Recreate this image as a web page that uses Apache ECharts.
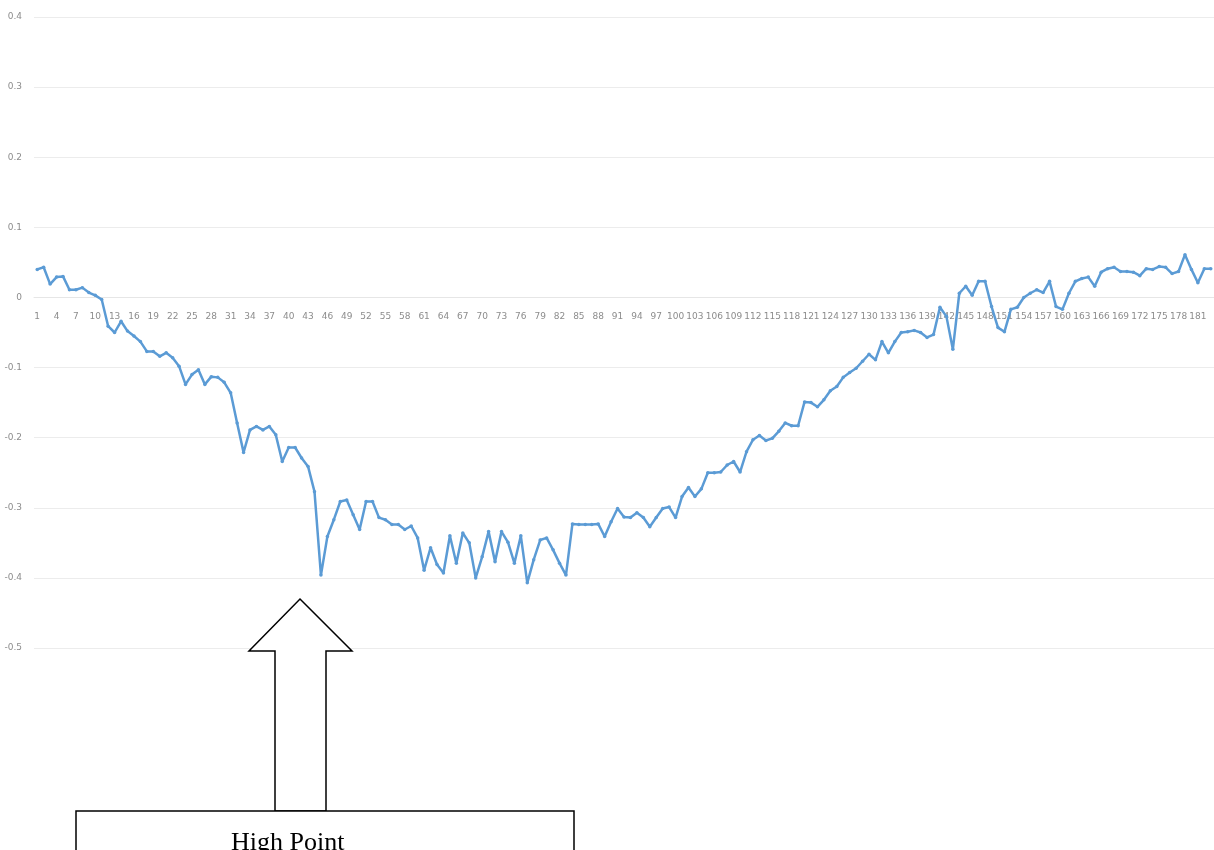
<!DOCTYPE html>
<html>
<head>
<meta charset="utf-8">
<script src="https://cdn.jsdelivr.net/npm/echarts@6/dist/echarts.min.js"></script>
<style>
html,body{margin:0;padding:0;background:#fff;}
#chart{width:1214px;height:850px;}
</style>
</head>
<body>
<div id="chart"></div>
<script>
// Data
const categories = [
  1,2,3,4,5,6,7,8,9,10,11,12,13,14,15,16,17,18,19,20,21,22,23,24,25,26,27,28,29,30,
  31,32,33,34,35,36,37,38,39,40,41,42,43,44,45,46,47,48,49,50,51,52,53,54,55,56,57,58,59,60,
  61,62,63,64,65,66,67,68,69,70,71,72,73,74,75,76,77,78,79,80,81,82,83,84,85,86,87,88,89,90,
  91,92,93,94,95,96,97,98,99,100,101,102,103,104,105,106,107,108,109,110,111,112,113,114,115,116,117,118,119,120,
  121,122,123,124,125,126,127,128,129,130,131,132,133,134,135,136,137,138,139,140,141,142,143,144,145,146,147,148,149,150,
  151,152,153,154,155,156,157,158,159,160,161,162,163,164,165,166,167,168,169,170,171,172,173,174,175,176,177,178,179,180,
  181,182,183
];
const values = [
  0.040, 0.043, 0.019, 0.029, 0.030, 0.011, 0.011, 0.014, 0.007, 0.003, -0.003,
  -0.041, -0.050, -0.034, -0.048, -0.055, -0.063, -0.077, -0.077, -0.084, -0.079,
  -0.086, -0.098, -0.124, -0.110, -0.103, -0.124, -0.113, -0.114, -0.121, -0.136,
  -0.179, -0.221, -0.189, -0.184, -0.189, -0.184, -0.196, -0.234, -0.214, -0.214,
  -0.229, -0.241, -0.277, -0.396, -0.341, -0.317, -0.291, -0.289, -0.310, -0.331,
  -0.291, -0.291, -0.314, -0.317, -0.324, -0.324,
  -0.331, -0.326, -0.343, -0.389, -0.357, -0.381, -0.393, -0.340, -0.379, -0.336,
  -0.350, -0.400, -0.370, -0.334, -0.377, -0.334, -0.349, -0.379, -0.340, -0.407,
  -0.374, -0.346, -0.343, -0.360, -0.379, -0.396, -0.323, -0.324, -0.324, -0.324,
  -0.323, -0.341, -0.320, -0.301, -0.313, -0.314, -0.307, -0.314, -0.327, -0.314,
  -0.301, -0.299, -0.314, -0.284, -0.271, -0.284, -0.273, -0.250, -0.250, -0.249,
  -0.239, -0.234, -0.249, -0.220, -0.203, -0.197, -0.204, -0.201, -0.191, -0.179,
  -0.183, -0.183,
  -0.149, -0.150, -0.156, -0.146, -0.133, -0.127, -0.114, -0.107, -0.101, -0.091,
  -0.081, -0.089, -0.063, -0.079, -0.063, -0.050, -0.049, -0.047, -0.050, -0.057,
  -0.053, -0.014, -0.027, -0.074, 0.006, 0.016, 0.003, 0.023, 0.023, -0.013,
  -0.043, -0.049, -0.017, -0.014, 0.000, 0.006, 0.011, 0.007, 0.023, -0.013,
  -0.017, 0.006, 0.023, 0.027, 0.029, 0.016, 0.036, 0.041, 0.043, 0.037,
  0.037, 0.036, 0.031, 0.041, 0.040, 0.044, 0.043, 0.034, 0.037, 0.061,
  0.040, 0.021, 0.041, 0.041
];
const yTicks = [-0.5, -0.4, -0.3, -0.2, -0.1, 0, 0.1, 0.2, 0.3, 0.4];
const annotationText = 'High Point';

const gridTop = 17, gridBottom = 202, chartH = 850;
const plotH = chartH - gridTop - gridBottom;
const yMin = yTicks[0], yMax = yTicks[yTicks.length - 1];
// shift the category axis up to where value 0 sits on the value axis
const zeroOffset = -plotH * (0 - yMin) / (yMax - yMin);

const chart = echarts.init(document.getElementById('chart'), null, {renderer: 'canvas'});
const option = {
  backgroundColor: '#ffffff',
  animation: false,
  grid: {left: 34, right: 0, top: gridTop, bottom: gridBottom, containLabel: false},
  xAxis: {
    type: 'category',
    data: categories.map(String),
    boundaryGap: true,
    position: 'bottom',
    offset: zeroOffset,
    axisLine: {show: true, onZero: false, lineStyle: {color: '#e6e6e6', width: 1}},
    axisTick: {show: false},
    axisLabel: {
      interval: 2,
      hideOverlap: false,
      color: '#8c8c8c',
      fontSize: 9,
      fontFamily: 'DejaVu Sans',
      margin: 15
    },
    splitLine: {show: false}
  },
  yAxis: {
    type: 'value',
    min: yMin,
    max: yMax,
    interval: 0.1,
    axisLine: {show: false},
    axisTick: {show: false},
    axisLabel: {
      color: '#8c8c8c',
      fontSize: 9,
      fontFamily: 'DejaVu Sans',
      margin: 12,
      formatter: function (v) {
        const r = Math.round(v * 10) / 10;
        return r === 0 ? '0' : r.toFixed(1);
      }
    },
    splitLine: {show: true, lineStyle: {color: '#ececec', width: 1}}
  },
  series: [{
    type: 'line',
    data: values,
    symbol: 'circle',
    symbolSize: 3.5,
    showSymbol: true,
    lineStyle: {color: '#5b9bd5', width: 2.5},
    itemStyle: {color: '#5b9bd5'},
    z: 3
  }],
  graphic: [
    {
      type: 'polygon',
      shape: {points: [[300, 599], [352, 651], [326, 651], [326, 811], [275, 811], [275, 651], [249, 651]]},
      style: {fill: '#ffffff', stroke: '#000000', lineWidth: 1.5},
      z: 10
    },
    {
      type: 'rect',
      shape: {x: 76, y: 811, width: 498, height: 60},
      style: {fill: '#ffffff', stroke: '#000000', lineWidth: 1.5},
      z: 11
    },
    {
      type: 'text',
      x: 231,
      y: 856,
      style: {
        text: annotationText,
        font: '26px "Liberation Serif", "Times New Roman", serif',
        fill: '#000000',
        align: 'left',
        verticalAlign: 'bottom'
      },
      z: 12
    }
  ]
};
chart.setOption(option);
</script>
</body>
</html>
